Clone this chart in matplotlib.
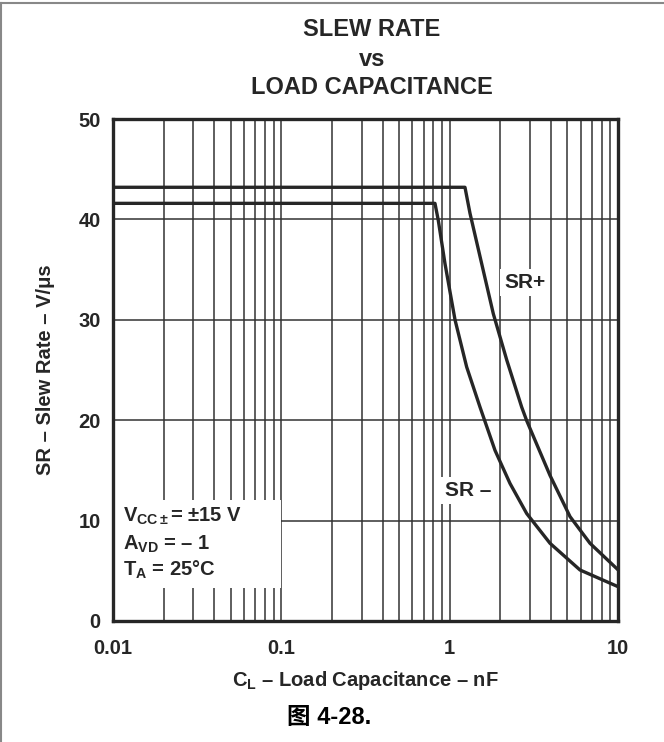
import matplotlib
matplotlib.use("Agg")
import matplotlib.pyplot as plt
from matplotlib.ticker import LogLocator, NullFormatter
from matplotlib.patches import Rectangle
from matplotlib.lines import Line2D

plt.rcParams['font.family'] = 'Liberation Sans'
plt.rcParams['font.weight'] = 'bold'
plt.rcParams['axes.labelweight'] = 'bold'
plt.rcParams['mathtext.fontset'] = 'custom'
plt.rcParams['mathtext.rm'] = 'Liberation Sans:bold'
plt.rcParams['mathtext.bf'] = 'Liberation Sans:bold'
plt.rcParams['mathtext.it'] = 'Liberation Sans:bold'

# values (load capacitance in nF, slew rate in V/us)
sr_pos_cl = [0.01, 1.233, 1.321, 1.515, 1.817, 2.183, 2.679, 2.869, 3.946, 5.187, 6.818, 10]
sr_pos_sr = [43.2, 43.2, 40.6, 36.3, 30.6, 26.0, 21.3, 19.95, 14.5, 10.4, 7.74, 5.1]
sr_neg_cl = [0.01, 0.818, 0.856, 0.938, 1.076, 1.262, 1.515, 1.859, 2.283, 2.869, 3.946, 5.947, 10]
sr_neg_sr = [41.6, 41.6, 39.9, 35.6, 30.0, 25.3, 21.3, 17.0, 13.7, 10.7, 7.74, 5.08, 3.42]

x_ticks = [0.01, 0.1, 1, 10]
x_tick_labels = ['0.01', '0.1', '1', '10']
y_ticks = [0, 10, 20, 30, 40, 50]

ink = '#262626'
grid_col = '#333333'

fig = plt.figure(figsize=(6.64, 7.42), dpi=100)
ax = fig.add_axes([0.1702, 0.1631, 0.7605, 0.6765])

ax.set_xscale('log')
ax.set_xlim(0.01, 10)
ax.set_ylim(0, 50)
ax.xaxis.set_minor_locator(LogLocator(base=10, subs=range(2, 10)))
ax.xaxis.set_minor_formatter(NullFormatter())
ax.set_xticks(x_ticks)
ax.set_xticklabels(x_tick_labels)
ax.set_yticks(y_ticks)
ax.tick_params(which='both', length=0, labelsize=14.5, colors=ink)
ax.tick_params(axis='x', pad=13)
ax.tick_params(axis='y', pad=9)

ax.set_axisbelow(True)
ax.grid(True, which='major', color=grid_col, lw=1.1, zorder=0.5)
ax.grid(True, which='minor', axis='x', color=grid_col, lw=1.1, zorder=0.5)
for s in ax.spines.values():
    s.set_linewidth(2.4)
    s.set_color(ink)

ax.plot(sr_pos_cl, sr_pos_sr, color=ink, lw=2.4, zorder=3, solid_joinstyle='round')
ax.plot(sr_neg_cl, sr_neg_sr, color=ink, lw=2.4, zorder=3, solid_joinstyle='round')

# conditions box (white patch hides the grid)
ax.add_patch(Rectangle((0, 0.066), 0.333, 0.175, transform=ax.transAxes,
                       facecolor='white', edgecolor='none', zorder=1))
ax.text(0.020, 0.208, r'V$_{\mathregular{CC\pm}}$= ±15 V', transform=ax.transAxes,
        fontsize=14.5, color=ink, va='center', zorder=4)
ax.text(0.020, 0.152, r'A$_{\mathregular{VD}}$ = – 1', transform=ax.transAxes,
        fontsize=14.5, color=ink, va='center', zorder=4)
ax.text(0.020, 0.102, r'T$_{\mathregular{A}}$ = 25°C', transform=ax.transAxes,
        fontsize=14.5, color=ink, va='center', zorder=4)

ax.text(2.8, 33.7, 'SR+', fontsize=15, color=ink, ha='center', va='center', zorder=4,
        bbox=dict(facecolor='white', edgecolor='none', pad=3))
ax.text(1.29, 13.0, 'SR –', fontsize=15, color=ink, ha='center', va='center', zorder=4,
        bbox=dict(facecolor='white', edgecolor='none', pad=3))

ax.set_xlabel(r'C$_{\mathregular{L}}$ – Load Capacitance – nF', fontsize=14.5, color=ink, labelpad=8)
ax.set_ylabel('SR – Slew Rate – V/μs', fontsize=14.5, color=ink, labelpad=17)

fig.text(0.56, 1 - 29 / 742, 'SLEW RATE', ha='center', va='center', fontsize=17, color=ink)
fig.text(0.56, 1 - 59 / 742, 'vs', ha='center', va='center', fontsize=17, color=ink)
fig.text(0.56, 1 - 88 / 742, 'LOAD CAPACITANCE', ha='center', va='center', fontsize=17, color=ink)
fig.text(329 / 664, 1 - 718 / 742, '图 4-28.', ha='center', va='center', fontsize=17,
         family=['Liberation Sans', 'Noto Sans CJK SC'], weight='bold', color='black')

# page frame lines (top and left)
fig.add_artist(Line2D([0, 1], [0.996, 0.996], transform=fig.transFigure, color='#888888', lw=1.5))
fig.add_artist(Line2D([0.002, 0.002], [0, 0.996], transform=fig.transFigure, color='#888888', lw=1.5))

fig.savefig('out.png', dpi=100)
